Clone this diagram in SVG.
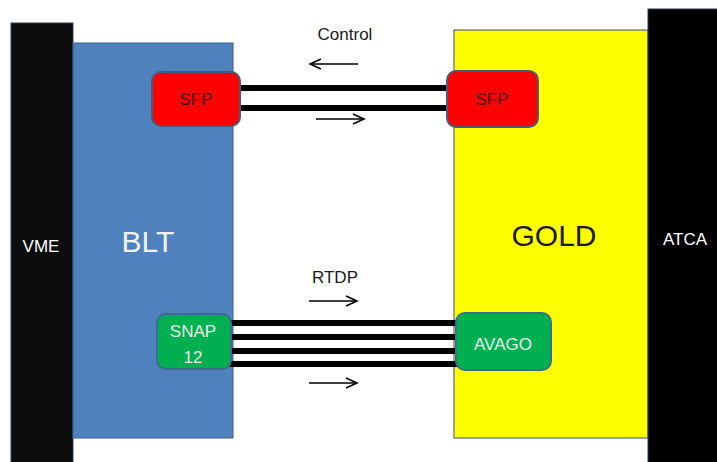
<svg xmlns="http://www.w3.org/2000/svg" width="717" height="462" viewBox="0 0 717 462">
<defs>
<style>
text{font-family:"Liberation Sans",Arial,sans-serif;text-anchor:middle}
.crate{fill:#0d0d0d;stroke:#2f3f5a;stroke-width:1}
.mod{stroke-width:2}
.link{stroke:#000;stroke-width:6;fill:none}
.dir{stroke:#000;stroke-width:1.6;fill:none}
.sm{font-size:17px}
.big{font-size:30px}
</style>
<marker id="ah" markerWidth="14" markerHeight="12" refX="12" refY="6" orient="auto" markerUnits="userSpaceOnUse">
<path d="M1,1 L12,6 L1,11" fill="none" stroke="#000" stroke-width="1.6"/>
</marker>
</defs>
<rect width="717" height="462" fill="#fff"/>
<g id="vme">
<rect class="crate" x="11" y="23" width="62" height="450"/>
<text class="sm" x="41" y="252" fill="#fff">VME</text>
</g>
<g id="blt">
<rect x="73" y="43" width="160" height="395" fill="#4f81bd" stroke="#3a5f8c" stroke-width="1"/>
<text class="big" x="148" y="252" fill="#f2f2f2">BLT</text>
</g>
<g id="gold">
<rect x="454" y="30" width="194" height="408" fill="#ffff00" stroke="#5a6a80" stroke-width="1.2"/>
<text class="big" x="554" y="246" fill="#1a1a1a">GOLD</text>
</g>
<g id="atca">
<rect x="648" y="9" width="75" height="460" fill="#000" stroke="#2f3f5a" stroke-width="1"/>
<text class="sm" x="685" y="245" fill="#fff">ATCA</text>
</g>
<g id="connectors">
<line class="link" x1="236" y1="88" x2="452" y2="88"/>
<line class="link" x1="236" y1="108" x2="452" y2="108"/>
<line class="link" x1="228" y1="323" x2="459" y2="323"/>
<line class="link" x1="228" y1="337" x2="459" y2="337"/>
<line class="link" x1="228" y1="351" x2="459" y2="351"/>
<line class="link" x1="228" y1="364" x2="459" y2="364"/>
<line class="dir" x1="358" y1="64" x2="310" y2="64" marker-end="url(#ah)"/>
<line class="dir" x1="316" y1="119" x2="364" y2="119" marker-end="url(#ah)"/>
<line class="dir" x1="309" y1="301" x2="357" y2="301" marker-end="url(#ah)"/>
<line class="dir" x1="309" y1="383" x2="357" y2="383" marker-end="url(#ah)"/>
<text class="sm" x="345" y="40" fill="#1a1a1a">Control</text>
<text class="sm" x="335" y="283" fill="#1a1a1a">RTDP</text>
</g>
<g id="sfp-left">
<rect class="mod" x="152" y="72" width="88" height="54" rx="9" fill="#ff0000" stroke="#4a5a7a"/>
<text class="sm" x="196" y="105" fill="#3a0000">SFP</text>
</g>
<g id="sfp-right">
<rect class="mod" x="447" y="71" width="91" height="56" rx="9" fill="#ff0000" stroke="#4a5a7a"/>
<text class="sm" x="492" y="105" fill="#3a0000">SFP</text>
</g>
<g id="snap12">
<rect class="mod" x="157" y="314" width="74" height="55" rx="9" fill="#00b050" stroke="#3a6e8a"/>
<text class="sm" x="193" y="337" fill="#eaf5ea">SNAP</text>
<text class="sm" x="193" y="363" fill="#eaf5ea">12</text>
</g>
<g id="avago">
<rect class="mod" x="456" y="313" width="95" height="57" rx="9" fill="#00b050" stroke="#3a6e8a"/>
<text class="sm" x="503" y="350" fill="#eaf5ea">AVAGO</text>
</g>
</svg>
